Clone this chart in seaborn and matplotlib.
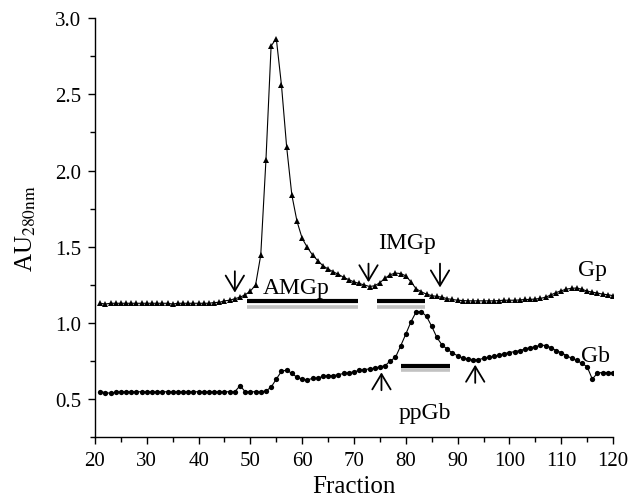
import numpy as np
import pandas as pd
import matplotlib
matplotlib.use("Agg")
import matplotlib.pyplot as plt
import seaborn as sns

fractions = list(range(21, 121))

gp_values = [
    1.13, 1.125, 1.13, 1.13, 1.13, 1.13, 1.13, 1.13, 1.13, 1.13,    # 21-30
    1.13, 1.13, 1.13, 1.13, 1.125, 1.13, 1.13, 1.13, 1.13, 1.13,    # 31-40
    1.13, 1.13, 1.135, 1.136, 1.146, 1.15, 1.16, 1.17, 1.186, 1.21,  # 41-50
    1.25, 1.446, 2.068, 2.817, 2.866, 2.56, 2.155, 1.84, 1.667, 1.555,  # 51-60
    1.496, 1.446, 1.41, 1.376, 1.355, 1.336, 1.32, 1.30, 1.285, 1.27,  # 61-70
    1.26, 1.25, 1.24, 1.245, 1.265, 1.295, 1.318, 1.328, 1.325, 1.31,  # 71-80
    1.27, 1.225, 1.205, 1.19, 1.18, 1.175, 1.17, 1.16, 1.155, 1.15,  # 81-90
    1.148, 1.146, 1.146, 1.146, 1.146, 1.146, 1.146, 1.148, 1.15, 1.15,  # 91-100
    1.15, 1.152, 1.155, 1.155, 1.158, 1.162, 1.17, 1.185, 1.2, 1.212,  # 101-110
    1.223, 1.228, 1.23, 1.222, 1.21, 1.203, 1.197, 1.19, 1.186, 1.18,  # 111-120
]

gb_values = [
    0.55, 0.545, 0.54, 0.548, 0.55, 0.55, 0.55, 0.55, 0.55, 0.55,   # 21-30
    0.55, 0.55, 0.55, 0.55, 0.55, 0.55, 0.55, 0.55, 0.55, 0.55,     # 31-40
    0.55, 0.55, 0.55, 0.55, 0.55, 0.55, 0.55, 0.59, 0.55, 0.55,     # 41-50
    0.55, 0.55, 0.555, 0.58, 0.633, 0.684, 0.692, 0.67, 0.645, 0.633,  # 51-60
    0.627, 0.638, 0.64, 0.65, 0.656, 0.656, 0.662, 0.67, 0.675, 0.68,  # 61-70
    0.69, 0.695, 0.70, 0.705, 0.714, 0.72, 0.753, 0.775, 0.85, 0.928,  # 71-80
    1.009, 1.074, 1.076, 1.044, 0.979, 0.906, 0.856, 0.83, 0.804, 0.786,  # 81-90
    0.771, 0.764, 0.76, 0.76, 0.769, 0.775, 0.782, 0.79, 0.80, 0.807,  # 91-100
    0.813, 0.82, 0.83, 0.84, 0.844, 0.856, 0.853, 0.84, 0.82, 0.807,  # 101-110
    0.786, 0.77, 0.755, 0.736, 0.714, 0.633, 0.673, 0.676, 0.676, 0.676,  # 111-120
]

# pooled-fraction bars: start, end, level
bar_names = ["AMGp", "IMGp", "ppGb"]
bar_start = [49.3, 74.4, 79.0]
bar_end = [70.7, 83.8, 88.6]
bar_black = [1.142, 1.142, 0.72]
bar_grey = [1.105, 1.105, 0.69]

# arrows: fraction, tail value, head value
down_arrow_x = [47.0, 72.8, 86.6]
down_arrow_tail = [1.34, 1.39, 1.39]
down_arrow_head = [1.20, 1.268, 1.234]
up_arrow_x = [75.3, 93.4]
up_arrow_tail = [0.56, 0.608]
up_arrow_head = [0.677, 0.727]

# text labels
label_texts = ["AMGp", "IMGp", "Gp", "Gb", "ppGb"]
label_x = [58.9, 80.2, 116.1, 116.7, 83.7]
label_y = [1.236, 1.531, 1.354, 0.785, 0.417]

sns.set_style("ticks")
plt.rcParams["font.family"] = ["Liberation Serif", "DejaVu Serif"]
plt.rcParams["mathtext.fontset"] = "stix"
plt.rcParams["text.color"] = "black"
plt.rcParams["axes.labelcolor"] = "black"
plt.rcParams["xtick.color"] = "black"
plt.rcParams["ytick.color"] = "black"

df_gp = pd.DataFrame({"Fraction": fractions, "AU": gp_values})
df_gb = pd.DataFrame({"Fraction": fractions, "AU": gb_values})

fig = plt.figure(figsize=(6.29, 5.02), dpi=100)
ax = fig.add_axes([0.151, 0.1265, 0.8236, 0.8355])

sns.lineplot(data=df_gp, x="Fraction", y="AU", ax=ax, color="black", lw=0.8,
             marker="^", markersize=4.0, markeredgewidth=0, markerfacecolor="black")
sns.lineplot(data=df_gb, x="Fraction", y="AU", ax=ax, color="black", lw=0.8,
             marker="o", markersize=3.8, markeredgewidth=0, markerfacecolor="black")

ax.hlines(bar_black, bar_start, bar_end, colors="black", lw=3.0)
ax.hlines(bar_grey, bar_start, bar_end, colors="#c2c2c2", lw=2.6)

astyle = dict(arrowstyle="->,head_length=0.55,head_width=0.33", color="black",
              lw=1.3, shrinkA=0, shrinkB=0, mutation_scale=20)
for x, t, h in zip(down_arrow_x, down_arrow_tail, down_arrow_head):
    ax.annotate("", xy=(x, h), xytext=(x, t), arrowprops=astyle)
for x, t, h in zip(up_arrow_x, up_arrow_tail, up_arrow_head):
    ax.annotate("", xy=(x, h), xytext=(x, t), arrowprops=astyle)

for s, x, y in zip(label_texts, label_x, label_y):
    ax.text(x, y, s, ha="center", va="center", fontsize=17, color="black")

ax.set_xlim(20, 120)
ax.set_ylim(0.25, 3.0)
ax.set_xticks(np.arange(20, 121, 10))
ax.set_xticks(np.arange(25, 121, 10), minor=True)
ax.set_yticks([0.5, 1.0, 1.5, 2.0, 2.5, 3.0])
ax.set_yticks([0.25, 0.75, 1.25, 1.75, 2.25, 2.75], minor=True)
ax.yaxis.set_major_formatter(matplotlib.ticker.FormatStrFormatter("%.1f"))
ax.tick_params(axis="both", which="major", length=5, width=1, labelsize=15,
               direction="out", pad=5, colors="black")
ax.tick_params(axis="both", which="minor", length=3.5, width=1, direction="out", colors="black")
for side in ["top", "right"]:
    ax.spines[side].set_visible(False)
for side in ["left", "bottom"]:
    ax.spines[side].set_linewidth(1.0)
    ax.spines[side].set_color("black")

ax.set_xlabel("Fraction", fontsize=18, labelpad=3)
ax.set_ylabel(r"AU$_{\mathrm{280nm}}$", fontsize=18, labelpad=12)

fig.savefig("out.png", dpi=100)
